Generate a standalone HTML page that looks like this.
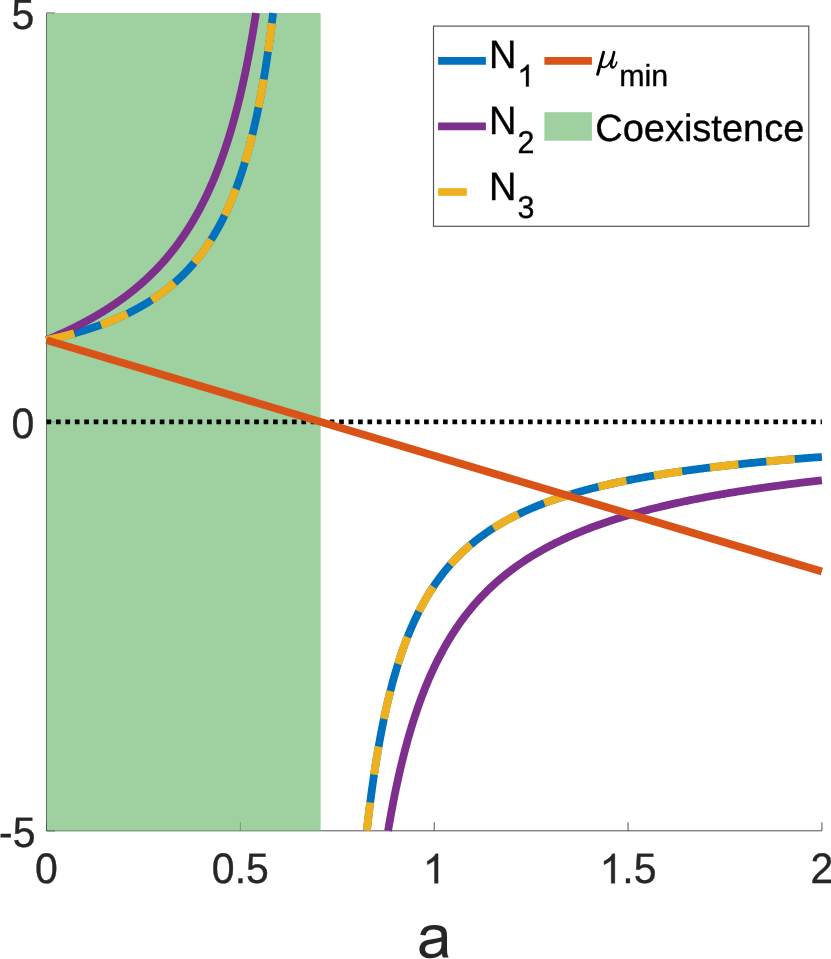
<!DOCTYPE html>
<html><head><meta charset="utf-8"><title>chart</title>
<style>
html,body{margin:0;padding:0;background:#fff;}
body{width:831px;height:959px;overflow:hidden;}
svg{display:block;font-family:"Liberation Sans",sans-serif;text-rendering:geometricPrecision;will-change:transform;}
</style></head><body>
<svg width="831" height="959" viewBox="0 0 831 959">
<defs><clipPath id="ax"><rect x="46.5" y="13.0" width="775.4" height="817.8"/></clipPath></defs>
<rect x="0" y="0" width="831" height="959" fill="#fff"/>
<!-- axes -->
<g stroke="#262626" stroke-width="1.0" stroke-opacity="0.8" fill="none">
<line x1="46.5" y1="13.0" x2="46.5" y2="830.8"/>
<line x1="46.5" y1="830.8" x2="821.9" y2="830.8"/>
<line x1="46.50" y1="830.80" x2="46.50" y2="822.30"/><line x1="240.35" y1="830.80" x2="240.35" y2="822.30"/><line x1="434.20" y1="830.80" x2="434.20" y2="822.30"/><line x1="628.05" y1="830.80" x2="628.05" y2="822.30"/><line x1="821.90" y1="830.80" x2="821.90" y2="822.30"/><line x1="46.50" y1="13.00" x2="55.00" y2="13.00"/><line x1="46.50" y1="421.90" x2="55.00" y2="421.90"/><line x1="46.50" y1="830.80" x2="55.00" y2="830.80"/>
</g>
<!-- coexistence patch (translucent, drawn over axes) -->
<rect x="46.5" y="13.0" width="274.15" height="817.8" fill="rgb(118,188,118)" fill-opacity="0.7"/>
<g fill="none" stroke-linecap="butt" stroke-linejoin="round">
<line x1="46.5" y1="421.90" x2="821.9" y2="421.90" stroke="#000" stroke-width="4.7" stroke-dasharray="4.7 4.74"/>
<path d="M46.50,340.12 L47.07,340.00 L47.64,339.88 L48.20,339.76 L48.77,339.64 L49.34,339.51 L49.91,339.39 L50.48,339.26 L51.04,339.14 L51.61,339.01 L52.18,338.89 L52.75,338.76 L53.31,338.63 L53.88,338.50 L54.45,338.37 L55.02,338.24 L55.59,338.11 L56.15,337.98 L56.72,337.85 L57.29,337.71 L57.86,337.58 L58.43,337.44 L58.99,337.31 L59.56,337.17 L60.13,337.04 L60.70,336.90 L61.26,336.76 L61.83,336.62 L62.40,336.48 L62.97,336.34 L63.54,336.20 L64.10,336.05 L64.67,335.91 L65.24,335.76 L65.81,335.62 L66.38,335.47 L66.94,335.33 L67.51,335.18 L68.08,335.03 L68.65,334.88 L69.22,334.73 L69.78,334.58 L70.35,334.43 L70.92,334.27 L71.49,334.12 L72.05,333.97 L72.62,333.81 L73.19,333.65 L73.76,333.50 L74.33,333.34 L74.89,333.18 L75.46,333.02 L76.03,332.86 L76.60,332.70 L77.17,332.53 L77.73,332.37 L78.30,332.21 L78.87,332.04 L79.44,331.87 L80.00,331.71 L80.57,331.54 L81.14,331.37 L81.71,331.20 L82.28,331.03 L82.84,330.85 L83.41,330.68 L83.98,330.51 L84.55,330.33 L85.12,330.15 L85.68,329.98 L86.25,329.80 L86.82,329.62 L87.39,329.44 L87.96,329.26 L88.52,329.07 L89.09,328.89 L89.66,328.71 L90.23,328.52 L90.79,328.33 L91.36,328.15 L91.93,327.96 L92.50,327.77 L93.07,327.58 L93.63,327.38 L94.20,327.19 L94.77,327.00 L95.34,326.80 L95.91,326.60 L96.47,326.41 L97.04,326.21 L97.61,326.01 L98.18,325.80 L98.74,325.60 L99.31,325.40 L99.88,325.19 L100.45,324.99 L101.02,324.78 L101.58,324.57 L102.15,324.36 L102.72,324.15 L103.29,323.94 L103.86,323.72 L104.42,323.51 L104.99,323.29 L105.56,323.08 L106.13,322.86 L106.70,322.64 L107.26,322.42 L107.83,322.19 L108.40,321.97 L108.97,321.74 L109.53,321.52 L110.10,321.29 L110.67,321.06 L111.24,320.83 L111.81,320.60 L112.37,320.36 L112.94,320.13 L113.51,319.89 L114.08,319.65 L114.65,319.41 L115.21,319.17 L115.78,318.93 L116.35,318.69 L116.92,318.44 L117.48,318.19 L118.05,317.95 L118.62,317.70 L119.19,317.44 L119.76,317.19 L120.32,316.94 L120.89,316.68 L121.46,316.42 L122.03,316.16 L122.60,315.90 L123.16,315.64 L123.73,315.37 L124.30,315.11 L124.87,314.84 L125.43,314.57 L126.00,314.30 L126.57,314.03 L127.14,313.75 L127.71,313.48 L128.27,313.20 L128.84,312.92 L129.41,312.64 L129.98,312.35 L130.55,312.07 L131.11,311.78 L131.68,311.49 L132.25,311.20 L132.82,310.91 L133.39,310.61 L133.95,310.32 L134.52,310.02 L135.09,309.72 L135.66,309.42 L136.22,309.11 L136.79,308.81 L137.36,308.50 L137.93,308.19 L138.50,307.87 L139.06,307.56 L139.63,307.24 L140.20,306.92 L140.77,306.60 L141.34,306.28 L141.90,305.95 L142.47,305.63 L143.04,305.30 L143.61,304.96 L144.17,304.63 L144.74,304.29 L145.31,303.95 L145.88,303.61 L146.45,303.27 L147.01,302.92 L147.58,302.58 L148.15,302.22 L148.72,301.87 L149.29,301.52 L149.85,301.16 L150.42,300.80 L150.99,300.43 L151.56,300.07 L152.13,299.70 L152.69,299.33 L153.26,298.95 L153.83,298.58 L154.40,298.20 L154.96,297.82 L155.53,297.43 L156.10,297.05 L156.67,296.66 L157.24,296.26 L157.80,295.87 L158.37,295.47 L158.94,295.07 L159.51,294.66 L160.08,294.25 L160.64,293.84 L161.21,293.43 L161.78,293.01 L162.35,292.59 L162.91,292.17 L163.48,291.74 L164.05,291.31 L164.62,290.88 L165.19,290.45 L165.75,290.01 L166.32,289.56 L166.89,289.12 L167.46,288.67 L168.03,288.22 L168.59,287.76 L169.16,287.30 L169.73,286.84 L170.30,286.37 L170.87,285.90 L171.43,285.42 L172.00,284.95 L172.57,284.46 L173.14,283.98 L173.70,283.49 L174.27,282.99 L174.84,282.50 L175.41,281.99 L175.98,281.49 L176.54,280.98 L177.11,280.47 L177.68,279.95 L178.25,279.42 L178.82,278.90 L179.38,278.37 L179.95,277.83 L180.52,277.29 L181.09,276.75 L181.65,276.20 L182.22,275.64 L182.79,275.09 L183.36,274.52 L183.93,273.95 L184.49,273.38 L185.06,272.80 L185.63,272.22 L186.20,271.63 L186.77,271.04 L187.33,270.44 L187.90,269.84 L188.47,269.23 L189.04,268.62 L189.61,268.00 L190.17,267.37 L190.74,266.74 L191.31,266.11 L191.88,265.46 L192.44,264.82 L193.01,264.16 L193.58,263.50 L194.15,262.84 L194.72,262.17 L195.28,261.49 L195.85,260.80 L196.42,260.11 L196.99,259.42 L197.56,258.71 L198.12,258.00 L198.69,257.28 L199.26,256.56 L199.83,255.83 L200.39,255.09 L200.96,254.35 L201.53,253.60 L202.10,252.84 L202.67,252.07 L203.23,251.29 L203.80,250.51 L204.37,249.72 L204.94,248.92 L205.51,248.12 L206.07,247.31 L206.64,246.48 L207.21,245.65 L207.78,244.81 L208.35,243.97 L208.91,243.11 L209.48,242.24 L210.05,241.37 L210.62,240.49 L211.18,239.59 L211.75,238.69 L212.32,237.78 L212.89,236.86 L213.46,235.93 L214.02,234.99 L214.59,234.04 L215.16,233.07 L215.73,232.10 L216.30,231.12 L216.86,230.12 L217.43,229.12 L218.00,228.10 L218.57,227.08 L219.13,226.04 L219.70,224.98 L220.27,223.92 L220.84,222.85 L221.41,221.76 L221.97,220.66 L222.54,219.54 L223.11,218.42 L223.68,217.28 L224.25,216.12 L224.81,214.96 L225.38,213.78 L225.95,212.58 L226.52,211.37 L227.09,210.15 L227.65,208.90 L228.22,207.65 L228.79,206.38 L229.36,205.09 L229.92,203.79 L230.49,202.47 L231.06,201.13 L231.63,199.78 L232.20,198.41 L232.76,197.02 L233.33,195.61 L233.90,194.18 L234.47,192.74 L235.04,191.27 L235.60,189.79 L236.17,188.29 L236.74,186.76 L237.31,185.22 L237.87,183.65 L238.44,182.06 L239.01,180.45 L239.58,178.82 L240.15,177.16 L240.71,175.48 L241.28,173.78 L241.85,172.05 L242.42,170.29 L242.99,168.51 L243.55,166.70 L244.12,164.87 L244.69,163.01 L245.26,161.12 L245.82,159.20 L246.39,157.25 L246.96,155.28 L247.53,153.27 L248.10,151.23 L248.66,149.15 L249.23,147.05 L249.80,144.91 L250.37,142.73 L250.94,140.52 L251.50,138.28 L252.07,135.99 L252.64,133.67 L253.21,131.31 L253.78,128.91 L254.34,126.47 L254.91,123.98 L255.48,121.45 L256.05,118.88 L256.61,116.26 L257.18,113.59 L257.75,110.88 L258.32,108.11 L258.89,105.30 L259.45,102.43 L260.02,99.51 L260.59,96.53 L261.16,93.50 L261.73,90.40 L262.29,87.25 L262.86,84.04 L263.43,80.76 L264.00,77.41 L264.56,74.00 L265.13,70.52 L265.70,66.96 L266.27,63.33 L266.84,59.63 L267.40,55.84 L267.97,51.97 L268.54,48.02 L269.11,43.98 L269.68,39.85 L270.24,35.63 L270.81,31.31 L271.38,26.89 L271.95,22.37 L272.52,17.74 L273.08,13.00" stroke="#0072bd" stroke-width="7.8"/>
<path d="M366.82,830.80 L367.96,820.82 L369.10,811.31 L370.24,802.24 L371.38,793.58 L372.52,785.30 L373.66,777.37 L374.80,769.78 L375.95,762.50 L377.09,755.52 L378.23,748.82 L379.37,742.37 L380.51,736.17 L381.65,730.21 L382.79,724.46 L383.93,718.92 L385.07,713.58 L386.21,708.42 L387.35,703.44 L388.49,698.63 L389.63,693.97 L390.77,689.47 L391.91,685.11 L393.05,680.89 L394.19,676.80 L395.33,672.84 L396.48,669.00 L397.62,665.27 L398.76,661.65 L399.90,658.13 L401.04,654.71 L402.18,651.39 L403.32,648.17 L404.46,645.02 L405.60,641.97 L406.74,638.99 L407.88,636.10 L409.02,633.28 L410.16,630.53 L411.30,627.85 L412.44,625.23 L413.58,622.68 L414.72,620.20 L415.86,617.77 L417.01,615.40 L418.15,613.08 L419.29,610.82 L420.43,608.62 L421.57,606.46 L422.71,604.35 L423.85,602.28 L424.99,600.27 L426.13,598.29 L427.27,596.36 L428.41,594.47 L429.55,592.62 L430.69,590.81 L431.83,589.03 L432.97,587.29 L434.11,585.59 L435.25,583.92 L436.39,582.28 L437.54,580.68 L438.68,579.10 L439.82,577.56 L440.96,576.05 L442.10,574.56 L443.24,573.10 L444.38,571.67 L445.52,570.27 L446.66,568.89 L447.80,567.54 L448.94,566.21 L450.08,564.90 L451.22,563.62 L452.36,562.36 L453.50,561.12 L454.64,559.90 L455.78,558.70 L456.92,557.52 L458.07,556.37 L459.21,555.23 L460.35,554.11 L461.49,553.01 L462.63,551.92 L463.77,550.86 L464.91,549.81 L466.05,548.78 L467.19,547.76 L468.33,546.76 L469.47,545.77 L470.61,544.80 L471.75,543.85 L472.89,542.91 L474.03,541.98 L475.17,541.07 L476.31,540.17 L477.45,539.28 L478.59,538.41 L479.74,537.54 L480.88,536.70 L482.02,535.86 L483.16,535.03 L484.30,534.22 L485.44,533.42 L486.58,532.63 L487.72,531.85 L488.86,531.08 L490.00,530.32 L491.14,529.57 L492.28,528.83 L493.42,528.10 L494.56,527.39 L495.70,526.68 L496.84,525.97 L497.98,525.28 L499.12,524.60 L500.27,523.93 L501.41,523.26 L502.55,522.61 L503.69,521.96 L504.83,521.32 L505.97,520.68 L507.11,520.06 L508.25,519.44 L509.39,518.83 L510.53,518.23 L511.67,517.64 L512.81,517.05 L513.95,516.47 L515.09,515.89 L516.23,515.33 L517.37,514.77 L518.51,514.21 L519.65,513.66 L520.80,513.12 L521.94,512.59 L523.08,512.06 L524.22,511.54 L525.36,511.02 L526.50,510.51 L527.64,510.00 L528.78,509.50 L529.92,509.01 L531.06,508.52 L532.20,508.03 L533.34,507.56 L534.48,507.08 L535.62,506.61 L536.76,506.15 L537.90,505.69 L539.04,505.24 L540.18,504.79 L541.33,504.35 L542.47,503.91 L543.61,503.47 L544.75,503.04 L545.89,502.61 L547.03,502.19 L548.17,501.78 L549.31,501.36 L550.45,500.95 L551.59,500.55 L552.73,500.15 L553.87,499.75 L555.01,499.36 L556.15,498.97 L557.29,498.58 L558.43,498.20 L559.57,497.82 L560.71,497.45 L561.85,497.08 L563.00,496.71 L564.14,496.34 L565.28,495.98 L566.42,495.63 L567.56,495.27 L568.70,494.92 L569.84,494.58 L570.98,494.23 L572.12,493.89 L573.26,493.55 L574.40,493.22 L575.54,492.89 L576.68,492.56 L577.82,492.23 L578.96,491.91 L580.10,491.59 L581.24,491.27 L582.38,490.96 L583.53,490.65 L584.67,490.34 L585.81,490.03 L586.95,489.73 L588.09,489.43 L589.23,489.13 L590.37,488.83 L591.51,488.54 L592.65,488.25 L593.79,487.96 L594.93,487.68 L596.07,487.39 L597.21,487.11 L598.35,486.83 L599.49,486.56 L600.63,486.28 L601.77,486.01 L602.91,485.74 L604.06,485.47 L605.20,485.21 L606.34,484.95 L607.48,484.68 L608.62,484.43 L609.76,484.17 L610.90,483.91 L612.04,483.66 L613.18,483.41 L614.32,483.16 L615.46,482.92 L616.60,482.67 L617.74,482.43 L618.88,482.19 L620.02,481.95 L621.16,481.71 L622.30,481.47 L623.44,481.24 L624.59,481.01 L625.73,480.78 L626.87,480.55 L628.01,480.32 L629.15,480.10 L630.29,479.87 L631.43,479.65 L632.57,479.43 L633.71,479.21 L634.85,479.00 L635.99,478.78 L637.13,478.57 L638.27,478.36 L639.41,478.15 L640.55,477.94 L641.69,477.73 L642.83,477.52 L643.97,477.32 L645.11,477.12 L646.26,476.91 L647.40,476.71 L648.54,476.51 L649.68,476.32 L650.82,476.12 L651.96,475.93 L653.10,475.73 L654.24,475.54 L655.38,475.35 L656.52,475.16 L657.66,474.97 L658.80,474.79 L659.94,474.60 L661.08,474.42 L662.22,474.23 L663.36,474.05 L664.50,473.87 L665.64,473.69 L666.79,473.51 L667.93,473.34 L669.07,473.16 L670.21,472.99 L671.35,472.81 L672.49,472.64 L673.63,472.47 L674.77,472.30 L675.91,472.13 L677.05,471.96 L678.19,471.80 L679.33,471.63 L680.47,471.47 L681.61,471.30 L682.75,471.14 L683.89,470.98 L685.03,470.82 L686.17,470.66 L687.32,470.50 L688.46,470.34 L689.60,470.19 L690.74,470.03 L691.88,469.88 L693.02,469.72 L694.16,469.57 L695.30,469.42 L696.44,469.27 L697.58,469.12 L698.72,468.97 L699.86,468.82 L701.00,468.68 L702.14,468.53 L703.28,468.38 L704.42,468.24 L705.56,468.10 L706.70,467.95 L707.85,467.81 L708.99,467.67 L710.13,467.53 L711.27,467.39 L712.41,467.25 L713.55,467.12 L714.69,466.98 L715.83,466.84 L716.97,466.71 L718.11,466.57 L719.25,466.44 L720.39,466.31 L721.53,466.18 L722.67,466.04 L723.81,465.91 L724.95,465.78 L726.09,465.66 L727.23,465.53 L728.38,465.40 L729.52,465.27 L730.66,465.15 L731.80,465.02 L732.94,464.90 L734.08,464.77 L735.22,464.65 L736.36,464.53 L737.50,464.40 L738.64,464.28 L739.78,464.16 L740.92,464.04 L742.06,463.92 L743.20,463.81 L744.34,463.69 L745.48,463.57 L746.62,463.45 L747.76,463.34 L748.90,463.22 L750.05,463.11 L751.19,462.99 L752.33,462.88 L753.47,462.77 L754.61,462.65 L755.75,462.54 L756.89,462.43 L758.03,462.32 L759.17,462.21 L760.31,462.10 L761.45,461.99 L762.59,461.88 L763.73,461.78 L764.87,461.67 L766.01,461.56 L767.15,461.46 L768.29,461.35 L769.43,461.25 L770.58,461.14 L771.72,461.04 L772.86,460.94 L774.00,460.83 L775.14,460.73 L776.28,460.63 L777.42,460.53 L778.56,460.43 L779.70,460.33 L780.84,460.23 L781.98,460.13 L783.12,460.03 L784.26,459.93 L785.40,459.83 L786.54,459.74 L787.68,459.64 L788.82,459.54 L789.96,459.45 L791.11,459.35 L792.25,459.26 L793.39,459.16 L794.53,459.07 L795.67,458.98 L796.81,458.88 L797.95,458.79 L799.09,458.70 L800.23,458.61 L801.37,458.52 L802.51,458.43 L803.65,458.34 L804.79,458.25 L805.93,458.16 L807.07,458.07 L808.21,457.98 L809.35,457.89 L810.49,457.80 L811.64,457.72 L812.78,457.63 L813.92,457.54 L815.06,457.46 L816.20,457.37 L817.34,457.29 L818.48,457.20 L819.62,457.12 L820.76,457.03 L821.90,456.95" stroke="#0072bd" stroke-width="7.8"/>
<path d="M46.50,340.12 L47.03,339.90 L47.55,339.68 L48.08,339.45 L48.60,339.23 L49.13,339.00 L49.65,338.78 L50.18,338.55 L50.70,338.33 L51.23,338.10 L51.75,337.87 L52.28,337.65 L52.80,337.42 L53.33,337.19 L53.85,336.96 L54.38,336.73 L54.90,336.50 L55.43,336.26 L55.95,336.03 L56.48,335.80 L57.00,335.56 L57.53,335.33 L58.05,335.09 L58.58,334.86 L59.10,334.62 L59.63,334.38 L60.15,334.14 L60.68,333.90 L61.20,333.66 L61.73,333.42 L62.25,333.18 L62.78,332.94 L63.30,332.70 L63.83,332.45 L64.35,332.21 L64.88,331.96 L65.40,331.72 L65.93,331.47 L66.45,331.22 L66.98,330.97 L67.50,330.73 L68.03,330.48 L68.55,330.22 L69.08,329.97 L69.60,329.72 L70.13,329.47 L70.65,329.21 L71.18,328.96 L71.70,328.70 L72.23,328.44 L72.75,328.19 L73.28,327.93 L73.80,327.67 L74.33,327.41 L74.85,327.15 L75.38,326.88 L75.90,326.62 L76.43,326.36 L76.95,326.09 L77.48,325.83 L78.00,325.56 L78.53,325.29 L79.05,325.02 L79.58,324.75 L80.10,324.48 L80.63,324.21 L81.15,323.94 L81.68,323.66 L82.20,323.39 L82.73,323.11 L83.25,322.84 L83.78,322.56 L84.30,322.28 L84.83,322.00 L85.35,321.72 L85.88,321.44 L86.40,321.15 L86.93,320.87 L87.45,320.58 L87.98,320.30 L88.50,320.01 L89.03,319.72 L89.55,319.43 L90.08,319.14 L90.60,318.85 L91.13,318.56 L91.65,318.26 L92.18,317.97 L92.70,317.67 L93.23,317.37 L93.75,317.07 L94.28,316.77 L94.80,316.47 L95.33,316.17 L95.85,315.86 L96.38,315.56 L96.90,315.25 L97.43,314.94 L97.95,314.64 L98.48,314.33 L99.00,314.01 L99.53,313.70 L100.05,313.39 L100.58,313.07 L101.10,312.76 L101.63,312.44 L102.15,312.12 L102.68,311.80 L103.20,311.48 L103.73,311.15 L104.25,310.83 L104.78,310.50 L105.30,310.17 L105.83,309.84 L106.35,309.51 L106.88,309.18 L107.40,308.85 L107.93,308.51 L108.45,308.18 L108.98,307.84 L109.50,307.50 L110.03,307.16 L110.55,306.82 L111.08,306.47 L111.60,306.13 L112.13,305.78 L112.65,305.43 L113.18,305.08 L113.70,304.73 L114.23,304.38 L114.75,304.02 L115.28,303.66 L115.80,303.31 L116.33,302.94 L116.85,302.58 L117.38,302.22 L117.90,301.85 L118.43,301.49 L118.95,301.12 L119.48,300.75 L120.00,300.38 L120.53,300.00 L121.05,299.63 L121.58,299.25 L122.10,298.87 L122.63,298.49 L123.15,298.10 L123.68,297.72 L124.20,297.33 L124.73,296.94 L125.25,296.55 L125.78,296.16 L126.30,295.77 L126.83,295.37 L127.35,294.97 L127.88,294.57 L128.40,294.17 L128.93,293.76 L129.45,293.36 L129.98,292.95 L130.50,292.54 L131.03,292.12 L131.55,291.71 L132.08,291.29 L132.60,290.87 L133.13,290.45 L133.65,290.03 L134.18,289.60 L134.70,289.17 L135.23,288.74 L135.75,288.31 L136.28,287.87 L136.80,287.43 L137.33,286.99 L137.85,286.55 L138.38,286.11 L138.90,285.66 L139.43,285.21 L139.95,284.76 L140.48,284.30 L141.00,283.85 L141.53,283.39 L142.05,282.93 L142.58,282.46 L143.10,281.99 L143.63,281.52 L144.15,281.05 L144.68,280.58 L145.20,280.10 L145.73,279.62 L146.25,279.14 L146.78,278.65 L147.30,278.16 L147.83,277.67 L148.35,277.17 L148.88,276.68 L149.40,276.18 L149.93,275.67 L150.45,275.17 L150.98,274.66 L151.50,274.15 L152.03,273.63 L152.55,273.11 L153.08,272.59 L153.60,272.07 L154.13,271.54 L154.65,271.01 L155.18,270.48 L155.70,269.94 L156.23,269.40 L156.75,268.85 L157.28,268.31 L157.80,267.76 L158.33,267.20 L158.85,266.65 L159.38,266.08 L159.90,265.52 L160.43,264.95 L160.95,264.38 L161.48,263.81 L162.00,263.23 L162.53,262.64 L163.05,262.06 L163.58,261.47 L164.10,260.87 L164.63,260.28 L165.15,259.68 L165.68,259.07 L166.20,258.46 L166.73,257.85 L167.25,257.23 L167.78,256.61 L168.30,255.98 L168.83,255.35 L169.35,254.72 L169.88,254.08 L170.40,253.44 L170.93,252.79 L171.45,252.14 L171.98,251.48 L172.50,250.82 L173.03,250.16 L173.55,249.49 L174.08,248.81 L174.60,248.14 L175.13,247.45 L175.65,246.76 L176.18,246.07 L176.70,245.37 L177.23,244.67 L177.75,243.96 L178.28,243.25 L178.80,242.53 L179.33,241.81 L179.85,241.08 L180.38,240.34 L180.90,239.60 L181.43,238.86 L181.95,238.11 L182.48,237.35 L183.00,236.59 L183.53,235.82 L184.05,235.05 L184.58,234.27 L185.10,233.49 L185.63,232.70 L186.15,231.90 L186.68,231.10 L187.20,230.29 L187.73,229.47 L188.25,228.65 L188.78,227.82 L189.30,226.99 L189.83,226.15 L190.35,225.30 L190.88,224.45 L191.40,223.58 L191.93,222.72 L192.45,221.84 L192.98,220.96 L193.50,220.07 L194.03,219.17 L194.55,218.27 L195.08,217.36 L195.60,216.44 L196.13,215.51 L196.65,214.58 L197.18,213.64 L197.70,212.69 L198.23,211.73 L198.75,210.77 L199.28,209.79 L199.80,208.81 L200.33,207.82 L200.85,206.82 L201.38,205.81 L201.90,204.80 L202.43,203.77 L202.95,202.74 L203.48,201.69 L204.00,200.64 L204.53,199.58 L205.05,198.51 L205.58,197.43 L206.10,196.34 L206.63,195.23 L207.15,194.12 L207.68,193.00 L208.20,191.87 L208.73,190.73 L209.25,189.58 L209.78,188.41 L210.30,187.24 L210.83,186.05 L211.35,184.86 L211.88,183.65 L212.40,182.43 L212.93,181.20 L213.45,179.96 L213.98,178.70 L214.50,177.43 L215.03,176.15 L215.55,174.86 L216.08,173.56 L216.60,172.24 L217.13,170.91 L217.65,169.56 L218.18,168.20 L218.70,166.83 L219.23,165.44 L219.75,164.04 L220.28,162.63 L220.80,161.20 L221.33,159.75 L221.85,158.29 L222.38,156.82 L222.90,155.32 L223.43,153.82 L223.95,152.29 L224.48,150.75 L225.00,149.20 L225.53,147.62 L226.05,146.03 L226.58,144.42 L227.10,142.80 L227.63,141.15 L228.15,139.49 L228.68,137.81 L229.20,136.11 L229.73,134.39 L230.25,132.64 L230.78,130.88 L231.30,129.10 L231.83,127.30 L232.35,125.48 L232.88,123.63 L233.40,121.77 L233.93,119.88 L234.45,117.96 L234.98,116.03 L235.50,114.07 L236.03,112.08 L236.55,110.08 L237.08,108.04 L237.60,105.98 L238.13,103.90 L238.65,101.79 L239.18,99.65 L239.70,97.48 L240.23,95.29 L240.75,93.07 L241.28,90.82 L241.80,88.53 L242.33,86.22 L242.85,83.88 L243.38,81.50 L243.90,79.10 L244.43,76.66 L244.95,74.18 L245.48,71.67 L246.00,69.13 L246.53,66.55 L247.05,63.94 L247.58,61.28 L248.10,58.59 L248.63,55.86 L249.15,53.09 L249.68,50.28 L250.20,47.43 L250.73,44.53 L251.25,41.59 L251.78,38.61 L252.30,35.58 L252.83,32.50 L253.35,29.38 L253.88,26.21 L254.40,22.98 L254.93,19.71 L255.45,16.38 L255.98,13.00" stroke="#7e2f8e" stroke-width="7.8"/>
<path d="M388.07,830.80 L389.16,824.42 L390.25,818.23 L391.34,812.24 L392.42,806.43 L393.51,800.79 L394.60,795.31 L395.68,790.00 L396.77,784.84 L397.86,779.82 L398.95,774.94 L400.03,770.19 L401.12,765.57 L402.21,761.08 L403.30,756.70 L404.38,752.43 L405.47,748.28 L406.56,744.23 L407.64,740.28 L408.73,736.43 L409.82,732.67 L410.91,729.00 L411.99,725.42 L413.08,721.92 L414.17,718.51 L415.26,715.17 L416.34,711.91 L417.43,708.72 L418.52,705.60 L419.60,702.55 L420.69,699.56 L421.78,696.64 L422.87,693.79 L423.95,690.99 L425.04,688.25 L426.13,685.56 L427.22,682.93 L428.30,680.36 L429.39,677.83 L430.48,675.36 L431.56,672.93 L432.65,670.55 L433.74,668.22 L434.83,665.93 L435.91,663.68 L437.00,661.47 L438.09,659.31 L439.18,657.18 L440.26,655.10 L441.35,653.05 L442.44,651.03 L443.52,649.06 L444.61,647.11 L445.70,645.20 L446.79,643.33 L447.87,641.48 L448.96,639.67 L450.05,637.89 L451.14,636.13 L452.22,634.41 L453.31,632.71 L454.40,631.04 L455.49,629.40 L456.57,627.78 L457.66,626.19 L458.75,624.63 L459.83,623.09 L460.92,621.57 L462.01,620.07 L463.10,618.60 L464.18,617.15 L465.27,615.72 L466.36,614.32 L467.45,612.93 L468.53,611.57 L469.62,610.22 L470.71,608.89 L471.79,607.59 L472.88,606.30 L473.97,605.03 L475.06,603.77 L476.14,602.54 L477.23,601.32 L478.32,600.12 L479.41,598.93 L480.49,597.76 L481.58,596.61 L482.67,595.47 L483.75,594.35 L484.84,593.24 L485.93,592.14 L487.02,591.06 L488.10,590.00 L489.19,588.94 L490.28,587.91 L491.37,586.88 L492.45,585.87 L493.54,584.87 L494.63,583.88 L495.71,582.90 L496.80,581.94 L497.89,580.99 L498.98,580.05 L500.06,579.12 L501.15,578.20 L502.24,577.29 L503.33,576.40 L504.41,575.51 L505.50,574.63 L506.59,573.77 L507.67,572.91 L508.76,572.07 L509.85,571.23 L510.94,570.40 L512.02,569.59 L513.11,568.78 L514.20,567.98 L515.29,567.19 L516.37,566.41 L517.46,565.64 L518.55,564.87 L519.63,564.11 L520.72,563.37 L521.81,562.63 L522.90,561.89 L523.98,561.17 L525.07,560.45 L526.16,559.74 L527.25,559.04 L528.33,558.35 L529.42,557.66 L530.51,556.98 L531.59,556.31 L532.68,555.64 L533.77,554.98 L534.86,554.33 L535.94,553.68 L537.03,553.04 L538.12,552.41 L539.21,551.78 L540.29,551.16 L541.38,550.54 L542.47,549.93 L543.56,549.33 L544.64,548.73 L545.73,548.14 L546.82,547.55 L547.90,546.97 L548.99,546.40 L550.08,545.83 L551.17,545.26 L552.25,544.70 L553.34,544.15 L554.43,543.60 L555.52,543.05 L556.60,542.51 L557.69,541.98 L558.78,541.45 L559.86,540.93 L560.95,540.41 L562.04,539.89 L563.13,539.38 L564.21,538.87 L565.30,538.37 L566.39,537.87 L567.48,537.38 L568.56,536.89 L569.65,536.41 L570.74,535.93 L571.82,535.45 L572.91,534.98 L574.00,534.51 L575.09,534.05 L576.17,533.59 L577.26,533.13 L578.35,532.68 L579.44,532.23 L580.52,531.78 L581.61,531.34 L582.70,530.90 L583.78,530.47 L584.87,530.04 L585.96,529.61 L587.05,529.19 L588.13,528.77 L589.22,528.35 L590.31,527.93 L591.40,527.52 L592.48,527.12 L593.57,526.71 L594.66,526.31 L595.74,525.91 L596.83,525.52 L597.92,525.13 L599.01,524.74 L600.09,524.35 L601.18,523.97 L602.27,523.59 L603.36,523.21 L604.44,522.84 L605.53,522.47 L606.62,522.10 L607.70,521.73 L608.79,521.37 L609.88,521.01 L610.97,520.65 L612.05,520.30 L613.14,519.95 L614.23,519.60 L615.32,519.25 L616.40,518.90 L617.49,518.56 L618.58,518.22 L619.67,517.89 L620.75,517.55 L621.84,517.22 L622.93,516.89 L624.01,516.56 L625.10,516.23 L626.19,515.91 L627.28,515.59 L628.36,515.27 L629.45,514.95 L630.54,514.64 L631.63,514.33 L632.71,514.02 L633.80,513.71 L634.89,513.40 L635.97,513.10 L637.06,512.80 L638.15,512.50 L639.24,512.20 L640.32,511.91 L641.41,511.61 L642.50,511.32 L643.59,511.03 L644.67,510.74 L645.76,510.46 L646.85,510.17 L647.93,509.89 L649.02,509.61 L650.11,509.33 L651.20,509.06 L652.28,508.78 L653.37,508.51 L654.46,508.24 L655.55,507.97 L656.63,507.70 L657.72,507.43 L658.81,507.17 L659.89,506.90 L660.98,506.64 L662.07,506.38 L663.16,506.13 L664.24,505.87 L665.33,505.61 L666.42,505.36 L667.51,505.11 L668.59,504.86 L669.68,504.61 L670.77,504.36 L671.85,504.12 L672.94,503.87 L674.03,503.63 L675.12,503.39 L676.20,503.15 L677.29,502.91 L678.38,502.68 L679.47,502.44 L680.55,502.21 L681.64,501.97 L682.73,501.74 L683.81,501.51 L684.90,501.28 L685.99,501.06 L687.08,500.83 L688.16,500.61 L689.25,500.38 L690.34,500.16 L691.43,499.94 L692.51,499.72 L693.60,499.50 L694.69,499.29 L695.77,499.07 L696.86,498.86 L697.95,498.64 L699.04,498.43 L700.12,498.22 L701.21,498.01 L702.30,497.80 L703.39,497.60 L704.47,497.39 L705.56,497.18 L706.65,496.98 L707.74,496.78 L708.82,496.58 L709.91,496.38 L711.00,496.18 L712.08,495.98 L713.17,495.78 L714.26,495.58 L715.35,495.39 L716.43,495.20 L717.52,495.00 L718.61,494.81 L719.70,494.62 L720.78,494.43 L721.87,494.24 L722.96,494.05 L724.04,493.87 L725.13,493.68 L726.22,493.50 L727.31,493.31 L728.39,493.13 L729.48,492.95 L730.57,492.77 L731.66,492.58 L732.74,492.41 L733.83,492.23 L734.92,492.05 L736.00,491.87 L737.09,491.70 L738.18,491.52 L739.27,491.35 L740.35,491.18 L741.44,491.00 L742.53,490.83 L743.62,490.66 L744.70,490.49 L745.79,490.33 L746.88,490.16 L747.96,489.99 L749.05,489.82 L750.14,489.66 L751.23,489.50 L752.31,489.33 L753.40,489.17 L754.49,489.01 L755.58,488.85 L756.66,488.69 L757.75,488.53 L758.84,488.37 L759.92,488.21 L761.01,488.05 L762.10,487.90 L763.19,487.74 L764.27,487.58 L765.36,487.43 L766.45,487.28 L767.54,487.12 L768.62,486.97 L769.71,486.82 L770.80,486.67 L771.88,486.52 L772.97,486.37 L774.06,486.22 L775.15,486.07 L776.23,485.93 L777.32,485.78 L778.41,485.64 L779.50,485.49 L780.58,485.35 L781.67,485.20 L782.76,485.06 L783.85,484.92 L784.93,484.77 L786.02,484.63 L787.11,484.49 L788.19,484.35 L789.28,484.21 L790.37,484.08 L791.46,483.94 L792.54,483.80 L793.63,483.66 L794.72,483.53 L795.81,483.39 L796.89,483.26 L797.98,483.12 L799.07,482.99 L800.15,482.86 L801.24,482.72 L802.33,482.59 L803.42,482.46 L804.50,482.33 L805.59,482.20 L806.68,482.07 L807.77,481.94 L808.85,481.81 L809.94,481.68 L811.03,481.56 L812.11,481.43 L813.20,481.30 L814.29,481.18 L815.38,481.05 L816.46,480.93 L817.55,480.81 L818.64,480.68 L819.73,480.56 L820.81,480.44 L821.90,480.31" stroke="#7e2f8e" stroke-width="7.8"/>
<path d="M46.50,340.12 L47.07,340.00 L47.64,339.88 L48.20,339.76 L48.77,339.64 L49.34,339.51 L49.91,339.39 L50.48,339.26 L51.04,339.14 L51.61,339.01 L52.18,338.89 L52.75,338.76 L53.31,338.63 L53.88,338.50 L54.45,338.37 L55.02,338.24 L55.59,338.11 L56.15,337.98 L56.72,337.85 L57.29,337.71 L57.86,337.58 L58.43,337.44 L58.99,337.31 L59.56,337.17 L60.13,337.04 L60.70,336.90 L61.26,336.76 L61.83,336.62 L62.40,336.48 L62.97,336.34 L63.54,336.20 L64.10,336.05 L64.67,335.91 L65.24,335.76 L65.81,335.62 L66.38,335.47 L66.94,335.33 L67.51,335.18 L68.08,335.03 L68.65,334.88 L69.22,334.73 L69.78,334.58 L70.35,334.43 L70.92,334.27 L71.49,334.12 L72.05,333.97 L72.62,333.81 L73.19,333.65 L73.76,333.50 L74.33,333.34 L74.89,333.18 L75.46,333.02 L76.03,332.86 L76.60,332.70 L77.17,332.53 L77.73,332.37 L78.30,332.21 L78.87,332.04 L79.44,331.87 L80.00,331.71 L80.57,331.54 L81.14,331.37 L81.71,331.20 L82.28,331.03 L82.84,330.85 L83.41,330.68 L83.98,330.51 L84.55,330.33 L85.12,330.15 L85.68,329.98 L86.25,329.80 L86.82,329.62 L87.39,329.44 L87.96,329.26 L88.52,329.07 L89.09,328.89 L89.66,328.71 L90.23,328.52 L90.79,328.33 L91.36,328.15 L91.93,327.96 L92.50,327.77 L93.07,327.58 L93.63,327.38 L94.20,327.19 L94.77,327.00 L95.34,326.80 L95.91,326.60 L96.47,326.41 L97.04,326.21 L97.61,326.01 L98.18,325.80 L98.74,325.60 L99.31,325.40 L99.88,325.19 L100.45,324.99 L101.02,324.78 L101.58,324.57 L102.15,324.36 L102.72,324.15 L103.29,323.94 L103.86,323.72 L104.42,323.51 L104.99,323.29 L105.56,323.08 L106.13,322.86 L106.70,322.64 L107.26,322.42 L107.83,322.19 L108.40,321.97 L108.97,321.74 L109.53,321.52 L110.10,321.29 L110.67,321.06 L111.24,320.83 L111.81,320.60 L112.37,320.36 L112.94,320.13 L113.51,319.89 L114.08,319.65 L114.65,319.41 L115.21,319.17 L115.78,318.93 L116.35,318.69 L116.92,318.44 L117.48,318.19 L118.05,317.95 L118.62,317.70 L119.19,317.44 L119.76,317.19 L120.32,316.94 L120.89,316.68 L121.46,316.42 L122.03,316.16 L122.60,315.90 L123.16,315.64 L123.73,315.37 L124.30,315.11 L124.87,314.84 L125.43,314.57 L126.00,314.30 L126.57,314.03 L127.14,313.75 L127.71,313.48 L128.27,313.20 L128.84,312.92 L129.41,312.64 L129.98,312.35 L130.55,312.07 L131.11,311.78 L131.68,311.49 L132.25,311.20 L132.82,310.91 L133.39,310.61 L133.95,310.32 L134.52,310.02 L135.09,309.72 L135.66,309.42 L136.22,309.11 L136.79,308.81 L137.36,308.50 L137.93,308.19 L138.50,307.87 L139.06,307.56 L139.63,307.24 L140.20,306.92 L140.77,306.60 L141.34,306.28 L141.90,305.95 L142.47,305.63 L143.04,305.30 L143.61,304.96 L144.17,304.63 L144.74,304.29 L145.31,303.95 L145.88,303.61 L146.45,303.27 L147.01,302.92 L147.58,302.58 L148.15,302.22 L148.72,301.87 L149.29,301.52 L149.85,301.16 L150.42,300.80 L150.99,300.43 L151.56,300.07 L152.13,299.70 L152.69,299.33 L153.26,298.95 L153.83,298.58 L154.40,298.20 L154.96,297.82 L155.53,297.43 L156.10,297.05 L156.67,296.66 L157.24,296.26 L157.80,295.87 L158.37,295.47 L158.94,295.07 L159.51,294.66 L160.08,294.25 L160.64,293.84 L161.21,293.43 L161.78,293.01 L162.35,292.59 L162.91,292.17 L163.48,291.74 L164.05,291.31 L164.62,290.88 L165.19,290.45 L165.75,290.01 L166.32,289.56 L166.89,289.12 L167.46,288.67 L168.03,288.22 L168.59,287.76 L169.16,287.30 L169.73,286.84 L170.30,286.37 L170.87,285.90 L171.43,285.42 L172.00,284.95 L172.57,284.46 L173.14,283.98 L173.70,283.49 L174.27,282.99 L174.84,282.50 L175.41,281.99 L175.98,281.49 L176.54,280.98 L177.11,280.47 L177.68,279.95 L178.25,279.42 L178.82,278.90 L179.38,278.37 L179.95,277.83 L180.52,277.29 L181.09,276.75 L181.65,276.20 L182.22,275.64 L182.79,275.09 L183.36,274.52 L183.93,273.95 L184.49,273.38 L185.06,272.80 L185.63,272.22 L186.20,271.63 L186.77,271.04 L187.33,270.44 L187.90,269.84 L188.47,269.23 L189.04,268.62 L189.61,268.00 L190.17,267.37 L190.74,266.74 L191.31,266.11 L191.88,265.46 L192.44,264.82 L193.01,264.16 L193.58,263.50 L194.15,262.84 L194.72,262.17 L195.28,261.49 L195.85,260.80 L196.42,260.11 L196.99,259.42 L197.56,258.71 L198.12,258.00 L198.69,257.28 L199.26,256.56 L199.83,255.83 L200.39,255.09 L200.96,254.35 L201.53,253.60 L202.10,252.84 L202.67,252.07 L203.23,251.29 L203.80,250.51 L204.37,249.72 L204.94,248.92 L205.51,248.12 L206.07,247.31 L206.64,246.48 L207.21,245.65 L207.78,244.81 L208.35,243.97 L208.91,243.11 L209.48,242.24 L210.05,241.37 L210.62,240.49 L211.18,239.59 L211.75,238.69 L212.32,237.78 L212.89,236.86 L213.46,235.93 L214.02,234.99 L214.59,234.04 L215.16,233.07 L215.73,232.10 L216.30,231.12 L216.86,230.12 L217.43,229.12 L218.00,228.10 L218.57,227.08 L219.13,226.04 L219.70,224.98 L220.27,223.92 L220.84,222.85 L221.41,221.76 L221.97,220.66 L222.54,219.54 L223.11,218.42 L223.68,217.28 L224.25,216.12 L224.81,214.96 L225.38,213.78 L225.95,212.58 L226.52,211.37 L227.09,210.15 L227.65,208.90 L228.22,207.65 L228.79,206.38 L229.36,205.09 L229.92,203.79 L230.49,202.47 L231.06,201.13 L231.63,199.78 L232.20,198.41 L232.76,197.02 L233.33,195.61 L233.90,194.18 L234.47,192.74 L235.04,191.27 L235.60,189.79 L236.17,188.29 L236.74,186.76 L237.31,185.22 L237.87,183.65 L238.44,182.06 L239.01,180.45 L239.58,178.82 L240.15,177.16 L240.71,175.48 L241.28,173.78 L241.85,172.05 L242.42,170.29 L242.99,168.51 L243.55,166.70 L244.12,164.87 L244.69,163.01 L245.26,161.12 L245.82,159.20 L246.39,157.25 L246.96,155.28 L247.53,153.27 L248.10,151.23 L248.66,149.15 L249.23,147.05 L249.80,144.91 L250.37,142.73 L250.94,140.52 L251.50,138.28 L252.07,135.99 L252.64,133.67 L253.21,131.31 L253.78,128.91 L254.34,126.47 L254.91,123.98 L255.48,121.45 L256.05,118.88 L256.61,116.26 L257.18,113.59 L257.75,110.88 L258.32,108.11 L258.89,105.30 L259.45,102.43 L260.02,99.51 L260.59,96.53 L261.16,93.50 L261.73,90.40 L262.29,87.25 L262.86,84.04 L263.43,80.76 L264.00,77.41 L264.56,74.00 L265.13,70.52 L265.70,66.96 L266.27,63.33 L266.84,59.63 L267.40,55.84 L267.97,51.97 L268.54,48.02 L269.11,43.98 L269.68,39.85 L270.24,35.63 L270.81,31.31 L271.38,26.89 L271.95,22.37 L272.52,17.74 L273.08,13.00" stroke="#edb120" stroke-width="8.0" stroke-dasharray="28.57 28.07"/>
<path d="M366.82,830.80 L367.96,820.82 L369.10,811.31 L370.24,802.24 L371.38,793.58 L372.52,785.30 L373.66,777.37 L374.80,769.78 L375.95,762.50 L377.09,755.52 L378.23,748.82 L379.37,742.37 L380.51,736.17 L381.65,730.21 L382.79,724.46 L383.93,718.92 L385.07,713.58 L386.21,708.42 L387.35,703.44 L388.49,698.63 L389.63,693.97 L390.77,689.47 L391.91,685.11 L393.05,680.89 L394.19,676.80 L395.33,672.84 L396.48,669.00 L397.62,665.27 L398.76,661.65 L399.90,658.13 L401.04,654.71 L402.18,651.39 L403.32,648.17 L404.46,645.02 L405.60,641.97 L406.74,638.99 L407.88,636.10 L409.02,633.28 L410.16,630.53 L411.30,627.85 L412.44,625.23 L413.58,622.68 L414.72,620.20 L415.86,617.77 L417.01,615.40 L418.15,613.08 L419.29,610.82 L420.43,608.62 L421.57,606.46 L422.71,604.35 L423.85,602.28 L424.99,600.27 L426.13,598.29 L427.27,596.36 L428.41,594.47 L429.55,592.62 L430.69,590.81 L431.83,589.03 L432.97,587.29 L434.11,585.59 L435.25,583.92 L436.39,582.28 L437.54,580.68 L438.68,579.10 L439.82,577.56 L440.96,576.05 L442.10,574.56 L443.24,573.10 L444.38,571.67 L445.52,570.27 L446.66,568.89 L447.80,567.54 L448.94,566.21 L450.08,564.90 L451.22,563.62 L452.36,562.36 L453.50,561.12 L454.64,559.90 L455.78,558.70 L456.92,557.52 L458.07,556.37 L459.21,555.23 L460.35,554.11 L461.49,553.01 L462.63,551.92 L463.77,550.86 L464.91,549.81 L466.05,548.78 L467.19,547.76 L468.33,546.76 L469.47,545.77 L470.61,544.80 L471.75,543.85 L472.89,542.91 L474.03,541.98 L475.17,541.07 L476.31,540.17 L477.45,539.28 L478.59,538.41 L479.74,537.54 L480.88,536.70 L482.02,535.86 L483.16,535.03 L484.30,534.22 L485.44,533.42 L486.58,532.63 L487.72,531.85 L488.86,531.08 L490.00,530.32 L491.14,529.57 L492.28,528.83 L493.42,528.10 L494.56,527.39 L495.70,526.68 L496.84,525.97 L497.98,525.28 L499.12,524.60 L500.27,523.93 L501.41,523.26 L502.55,522.61 L503.69,521.96 L504.83,521.32 L505.97,520.68 L507.11,520.06 L508.25,519.44 L509.39,518.83 L510.53,518.23 L511.67,517.64 L512.81,517.05 L513.95,516.47 L515.09,515.89 L516.23,515.33 L517.37,514.77 L518.51,514.21 L519.65,513.66 L520.80,513.12 L521.94,512.59 L523.08,512.06 L524.22,511.54 L525.36,511.02 L526.50,510.51 L527.64,510.00 L528.78,509.50 L529.92,509.01 L531.06,508.52 L532.20,508.03 L533.34,507.56 L534.48,507.08 L535.62,506.61 L536.76,506.15 L537.90,505.69 L539.04,505.24 L540.18,504.79 L541.33,504.35 L542.47,503.91 L543.61,503.47 L544.75,503.04 L545.89,502.61 L547.03,502.19 L548.17,501.78 L549.31,501.36 L550.45,500.95 L551.59,500.55 L552.73,500.15 L553.87,499.75 L555.01,499.36 L556.15,498.97 L557.29,498.58 L558.43,498.20 L559.57,497.82 L560.71,497.45 L561.85,497.08 L563.00,496.71 L564.14,496.34 L565.28,495.98 L566.42,495.63 L567.56,495.27 L568.70,494.92 L569.84,494.58 L570.98,494.23 L572.12,493.89 L573.26,493.55 L574.40,493.22 L575.54,492.89 L576.68,492.56 L577.82,492.23 L578.96,491.91 L580.10,491.59 L581.24,491.27 L582.38,490.96 L583.53,490.65 L584.67,490.34 L585.81,490.03 L586.95,489.73 L588.09,489.43 L589.23,489.13 L590.37,488.83 L591.51,488.54 L592.65,488.25 L593.79,487.96 L594.93,487.68 L596.07,487.39 L597.21,487.11 L598.35,486.83 L599.49,486.56 L600.63,486.28 L601.77,486.01 L602.91,485.74 L604.06,485.47 L605.20,485.21 L606.34,484.95 L607.48,484.68 L608.62,484.43 L609.76,484.17 L610.90,483.91 L612.04,483.66 L613.18,483.41 L614.32,483.16 L615.46,482.92 L616.60,482.67 L617.74,482.43 L618.88,482.19 L620.02,481.95 L621.16,481.71 L622.30,481.47 L623.44,481.24 L624.59,481.01 L625.73,480.78 L626.87,480.55 L628.01,480.32 L629.15,480.10 L630.29,479.87 L631.43,479.65 L632.57,479.43 L633.71,479.21 L634.85,479.00 L635.99,478.78 L637.13,478.57 L638.27,478.36 L639.41,478.15 L640.55,477.94 L641.69,477.73 L642.83,477.52 L643.97,477.32 L645.11,477.12 L646.26,476.91 L647.40,476.71 L648.54,476.51 L649.68,476.32 L650.82,476.12 L651.96,475.93 L653.10,475.73 L654.24,475.54 L655.38,475.35 L656.52,475.16 L657.66,474.97 L658.80,474.79 L659.94,474.60 L661.08,474.42 L662.22,474.23 L663.36,474.05 L664.50,473.87 L665.64,473.69 L666.79,473.51 L667.93,473.34 L669.07,473.16 L670.21,472.99 L671.35,472.81 L672.49,472.64 L673.63,472.47 L674.77,472.30 L675.91,472.13 L677.05,471.96 L678.19,471.80 L679.33,471.63 L680.47,471.47 L681.61,471.30 L682.75,471.14 L683.89,470.98 L685.03,470.82 L686.17,470.66 L687.32,470.50 L688.46,470.34 L689.60,470.19 L690.74,470.03 L691.88,469.88 L693.02,469.72 L694.16,469.57 L695.30,469.42 L696.44,469.27 L697.58,469.12 L698.72,468.97 L699.86,468.82 L701.00,468.68 L702.14,468.53 L703.28,468.38 L704.42,468.24 L705.56,468.10 L706.70,467.95 L707.85,467.81 L708.99,467.67 L710.13,467.53 L711.27,467.39 L712.41,467.25 L713.55,467.12 L714.69,466.98 L715.83,466.84 L716.97,466.71 L718.11,466.57 L719.25,466.44 L720.39,466.31 L721.53,466.18 L722.67,466.04 L723.81,465.91 L724.95,465.78 L726.09,465.66 L727.23,465.53 L728.38,465.40 L729.52,465.27 L730.66,465.15 L731.80,465.02 L732.94,464.90 L734.08,464.77 L735.22,464.65 L736.36,464.53 L737.50,464.40 L738.64,464.28 L739.78,464.16 L740.92,464.04 L742.06,463.92 L743.20,463.81 L744.34,463.69 L745.48,463.57 L746.62,463.45 L747.76,463.34 L748.90,463.22 L750.05,463.11 L751.19,462.99 L752.33,462.88 L753.47,462.77 L754.61,462.65 L755.75,462.54 L756.89,462.43 L758.03,462.32 L759.17,462.21 L760.31,462.10 L761.45,461.99 L762.59,461.88 L763.73,461.78 L764.87,461.67 L766.01,461.56 L767.15,461.46 L768.29,461.35 L769.43,461.25 L770.58,461.14 L771.72,461.04 L772.86,460.94 L774.00,460.83 L775.14,460.73 L776.28,460.63 L777.42,460.53 L778.56,460.43 L779.70,460.33 L780.84,460.23 L781.98,460.13 L783.12,460.03 L784.26,459.93 L785.40,459.83 L786.54,459.74 L787.68,459.64 L788.82,459.54 L789.96,459.45 L791.11,459.35 L792.25,459.26 L793.39,459.16 L794.53,459.07 L795.67,458.98 L796.81,458.88 L797.95,458.79 L799.09,458.70 L800.23,458.61 L801.37,458.52 L802.51,458.43 L803.65,458.34 L804.79,458.25 L805.93,458.16 L807.07,458.07 L808.21,457.98 L809.35,457.89 L810.49,457.80 L811.64,457.72 L812.78,457.63 L813.92,457.54 L815.06,457.46 L816.20,457.37 L817.34,457.29 L818.48,457.20 L819.62,457.12 L820.76,457.03 L821.90,456.95" stroke="#edb120" stroke-width="8.0" stroke-dasharray="28.57 28.07"/>
<path d="M46.50,340.12 L821.90,571.43" stroke="#d95319" stroke-width="7.8"/>
</g>
<!-- tick labels -->
<g font-size="41" fill="#262626" stroke="#262626" stroke-width="0.35"><text transform="translate(46.50,883.30) scale(1,1.040)" text-anchor="middle">0</text><text transform="translate(240.35,883.30) scale(1,1.040)" text-anchor="middle">0.5</text><path d="M763,0H583V1147Q518,1085 412.5,1023Q307,961 223,930V1104Q374,1175 487,1276Q600,1377 647,1472H763Z" vector-effect="non-scaling-stroke" transform="translate(422.80,883.30) scale(0.02002,-0.02002)"/><path d="M763,0H583V1147Q518,1085 412.5,1023Q307,961 223,930V1104Q374,1175 487,1276Q600,1377 647,1472H763Z" vector-effect="non-scaling-stroke" transform="translate(599.55,883.30) scale(0.02002,-0.02002)"/><text transform="translate(622.35,883.30) scale(1,1.040)">.5</text><text transform="translate(821.90,883.30) scale(1,1.040)" text-anchor="middle">2</text><text transform="translate(34.40,29.30) scale(1,1.040)" text-anchor="end">5</text><text transform="translate(34.40,438.20) scale(1,1.040)" text-anchor="end">0</text><text transform="translate(35.50,847.10) scale(1,1.040)" text-anchor="end">-5</text></g>
<path d="M828,131Q728,46 635.5,11Q543,-24 437,-24Q262,-24 168,61.5Q74,147 74,280Q74,358 109.5,422.5Q145,487 202.5,526Q260,565 332,585Q385,599 492,612Q710,638 813,674Q814,711 814,721Q814,831 763,876Q694,937 558,937Q431,937 370.5,892.5Q310,848 281,735L105,759Q129,872 184,941.5Q239,1011 343,1048.5Q447,1086 584,1086Q720,1086 805,1054Q890,1022 930,973.5Q970,925 986,851Q995,805 995,685L995,445Q995,194 1006.5,127.5Q1018,61 1052,0L864,0Q836,56 828,131ZM813,533Q715,493 519,465Q408,449 362,429Q316,409 291,370.5Q266,332 266,285Q266,213 320.5,165Q375,117 480,117Q584,117 665,162.5Q746,208 784,287Q813,348 813,467Z" fill="#262626" fill-rule="nonzero" transform="translate(417.10,957.60) scale(0.03003,-0.03003)"/>
<!-- legend -->
<rect x="433.5" y="26.1" width="375.3" height="200.2" fill="#fff" stroke="#262626" stroke-opacity="0.8" stroke-width="1.15"/>
<g fill="none" stroke-width="7.7">
<line x1="438.1" y1="60.8" x2="485.9" y2="60.8" stroke="#0072bd"/>
<line x1="438.1" y1="126.4" x2="485.9" y2="126.4" stroke="#7e2f8e"/>
<line x1="438.1" y1="192.0" x2="466.9" y2="192.0" stroke="#edb120"/>
<line x1="544.4" y1="60.8" x2="591.9" y2="60.8" stroke="#d95319"/>
</g>
<rect x="544.4" y="112.2" width="47.5" height="28.5" fill="#9fd09f"/>
<g fill="#000" font-size="38" stroke="#000" stroke-width="0.35">
<text transform="translate(489.10,67.70) scale(1,1.040)">N</text><path d="M763,0H583V1147Q518,1085 412.5,1023Q307,961 223,930V1104Q374,1175 487,1276Q600,1377 647,1472H763Z" vector-effect="non-scaling-stroke" transform="translate(517.40,86.50) scale(0.01484,-0.01484)"/>
<text transform="translate(489.10,133.80) scale(1,1.040)">N</text><text transform="translate(517.40,152.70) scale(1,1.040)" font-size="30.4">2</text>
<text transform="translate(489.10,199.70) scale(1,1.040)">N</text><text transform="translate(517.40,218.20) scale(1,1.040)" font-size="30.4">3</text>
<g stroke="#000" fill="none" stroke-linecap="round" stroke-linejoin="round">
<path d="M603.6,52.2 L597.6,74.3" stroke-width="2.9"/>
<path d="M600.6,64.5 C601.5,68.5 607,69 610.8,60.5" stroke-width="1.75"/>
<path d="M614.1,52.2 L611.4,63.0 C610.6,66.4 611.6,67.6 613.0,67.5" stroke-width="2.65"/>
<path d="M613.0,67.5 C614.6,67.4 615.8,65.5 616.8,62.0" stroke-width="1.45"/>
</g>
<text x="619.2" y="86.1" font-size="30.4">min</text>
<text x="595.2" y="141.2">Coexistence</text>
</g>
</svg>
</body></html>
